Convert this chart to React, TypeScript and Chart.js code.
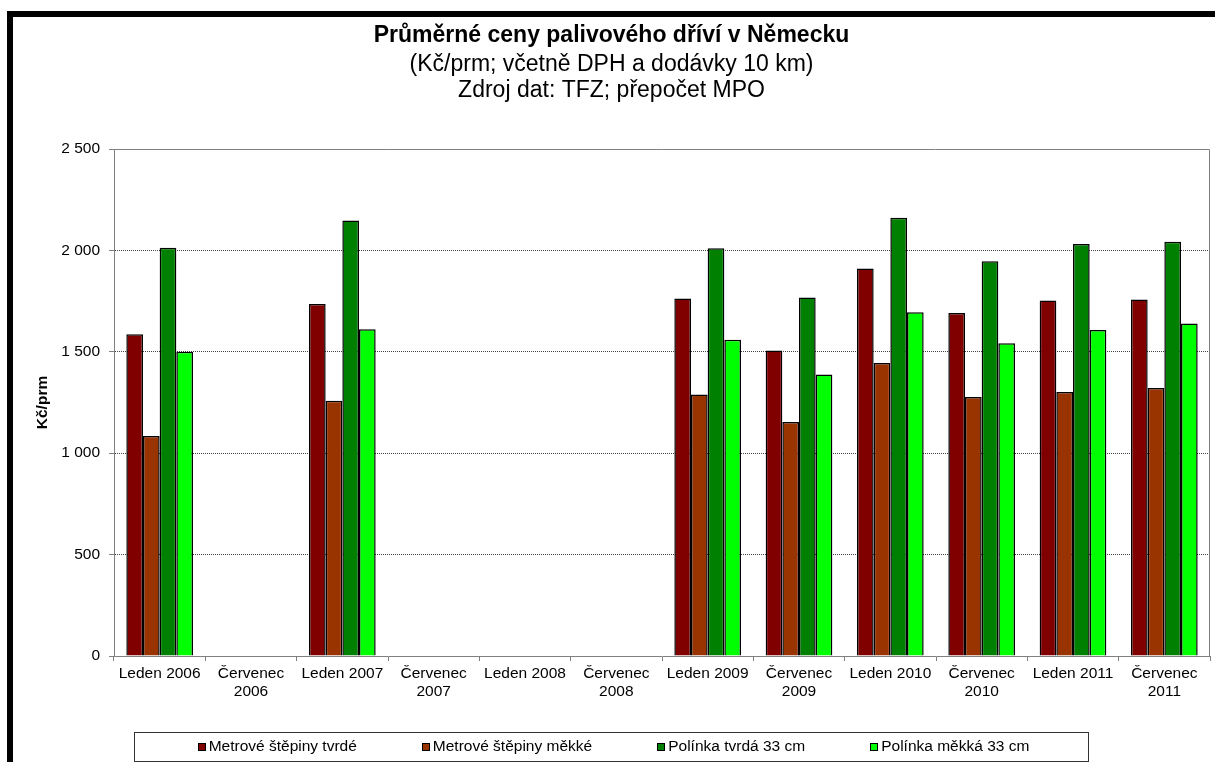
import React, { useEffect, useRef } from 'react';
import { Chart, registerables } from 'chart.js';

Chart.register(...registerables);

const FONT = "'Liberation Sans', Arial, Helvetica, sans-serif";

const categories: (string | string[])[] = [
  'Leden 2006', ['Červenec', '2006'],
  'Leden 2007', ['Červenec', '2007'],
  'Leden 2008', ['Červenec', '2008'],
  'Leden 2009', ['Červenec', '2009'],
  'Leden 2010', ['Červenec', '2010'],
  'Leden 2011', ['Červenec', '2011'],
];

const seriesNames = [
  'Metrové štěpiny tvrdé',
  'Metrové štěpiny měkké',
  'Polínka tvrdá 33 cm',
  'Polínka měkká 33 cm',
];

const metroveTvrde = [1586, null, 1736, null, null, null, 1763, 1506, 1911, 1691, 1753, 1758];
const metroveMekke = [1085, null, 1259, null, null, null, 1289, 1154, 1445, 1277, 1302, 1322];
const polinkaTvrda = [2013, null, 2148, null, null, null, 2010, 1768, 2161, 1946, 2031, 2043];
const polinkaMekka = [1500, null, 1611, null, null, null, 1559, 1388, 1695, 1542, 1608, 1640];

const seriesColors = ['#800000', '#993300', '#008000', '#00FF00'];

const yTickValues = [0, 500, 1000, 1500, 2000, 2500];

const titleText = 'Průměrné ceny palivového dříví v Německu';
const subtitleLines = ['(Kč/prm; včetně DPH a dodávky 10 km)', 'Zdroj dat: TFZ; přepočet MPO'];
const yAxisTitle = 'Kč/prm';

const formatThousands = (v: number) => {
  if (v < 1000) return String(v);
  const th = Math.floor(v / 1000);
  const rest = String(v % 1000).padStart(3, '0');
  return `${th} ${rest}`;
};

const plotBorder = {
  id: 'plotBorder',
  beforeDatasetsDraw(chart: any) {
    const { ctx, chartArea } = chart;
    ctx.save();
    ctx.strokeStyle = '#808080';
    ctx.lineWidth = 1;
    ctx.beginPath();
    ctx.moveTo(chartArea.left, Math.round(chartArea.top) + 0.5);
    ctx.lineTo(Math.round(chartArea.right) - 0.5, Math.round(chartArea.top) + 0.5);
    ctx.lineTo(Math.round(chartArea.right) - 0.5, chartArea.bottom);
    ctx.stroke();
    ctx.restore();
  },
};

const boxedLegend = {
  id: 'boxedLegend',
  afterDraw(chart: any) {
    const { ctx, chartArea } = chart;
    const datasets = chart.data.datasets;
    const fs = 15.5;
    ctx.save();
    ctx.font = `${fs}px ${FONT}`;
    const sq = 8;
    const textGap = 11;
    const itemGap = 65;
    const widths = datasets.map((d: any) => ctx.measureText(d.label).width);
    const total = widths.reduce((a: number, w: number) => a + textGap + w, 0) + itemGap * (datasets.length - 1);
    const startX = chart.width / 2 + 1 - total / 2;
    const top = Math.round(chartArea.bottom + 76);
    const h = 29;
    const cy = top + 15;
    ctx.strokeStyle = '#333';
    ctx.lineWidth = 1;
    ctx.strokeRect(Math.round(startX - 64) + 0.5, top + 0.5, Math.round(total + 64 + 58), h);
    let x = startX;
    datasets.forEach((d: any, i: number) => {
      const bx = Math.round(x);
      ctx.fillStyle = d.backgroundColor;
      ctx.fillRect(bx, cy - 4, sq, sq);
      ctx.strokeStyle = '#000';
      ctx.strokeRect(bx + 0.5, cy - 4 + 0.5, sq - 1, sq - 1);
      ctx.fillStyle = '#000';
      ctx.textBaseline = 'middle';
      ctx.textAlign = 'left';
      ctx.fillText(d.label, x + textGap, cy);
      x += textGap + widths[i] + itemGap;
    });
    ctx.restore();
  },
};

export default function App() {
  const canvasRef = useRef<HTMLCanvasElement | null>(null);

  useEffect(() => {
    if (!canvasRef.current) return;
    Chart.defaults.font.family = FONT;
    const seriesValues = [metroveTvrde, metroveMekke, polinkaTvrda, polinkaMekka];
    const chart = new Chart(canvasRef.current, {
      type: 'bar',
      data: {
        labels: categories,
        datasets: seriesNames.map((name, i) => ({
          label: name,
          data: seriesValues[i],
          backgroundColor: seriesColors[i],
          borderColor: '#000',
          borderWidth: 1.5,
          borderSkipped: 'start',
          categoryPercentage: 0.73,
          barPercentage: 1,
        })),
      },
      options: {
        responsive: false,
        animation: false,
        devicePixelRatio: 1,
        layout: { padding: { left: 0, right: 2, top: 0, bottom: 46 } },
        plugins: {
          legend: { display: false },
          tooltip: { enabled: false },
          title: {
            display: true,
            text: titleText,
            color: '#000',
            font: { family: FONT, size: 23, weight: 'bold', lineHeight: 1.2 },
            padding: { top: 6, bottom: 0 },
          },
          subtitle: {
            display: true,
            text: subtitleLines,
            color: '#000',
            font: { family: FONT, size: 23, weight: 'normal', lineHeight: 26 / 23 },
            padding: { top: 2, bottom: 45.4 },
          },
        },
        scales: {
          x: {
            offset: true,
            grid: {
              display: true,
              offset: true,
              drawOnChartArea: false,
              drawTicks: true,
              tickLength: 5,
              color: '#808080',
            },
            border: { display: true, color: '#808080', width: 1 },
            ticks: {
              color: '#000',
              font: { family: FONT, size: 15.5, lineHeight: 1.15 },
              padding: 4,
              maxRotation: 0,
              minRotation: 0,
              autoSkip: false,
            },
            afterFit: (scale: any) => {
              scale.height = 60;
            },
          },
          y: {
            min: 0,
            max: 2500,
            afterBuildTicks: (scale: any) => {
              scale.ticks = yTickValues.map((v) => ({ value: v }));
            },
            grid: {
              color: (ctx: any) =>
                ctx.tick && (ctx.tick.value === 0 || ctx.tick.value === 2500) ? 'rgba(0,0,0,0)' : '#444',
              tickColor: '#808080',
              drawTicks: true,
              tickLength: 5,
              lineWidth: 1,
            },
            border: { display: true, color: '#808080', width: 1, dash: [1, 1] },
            ticks: {
              color: '#000',
              font: { family: FONT, size: 15.5 },
              padding: 9,
              callback: (v: any) => formatThousands(Number(v)),
            },
            title: {
              display: true,
              text: yAxisTitle,
              color: '#000',
              font: { family: FONT, size: 15.5, weight: 'bold', lineHeight: 1.2 },
              padding: { top: 20, bottom: 0 },
            },
            afterFit: (scale: any) => {
              scale.width = 101;
            },
          },
        },
      },
      plugins: [plotBorder, boxedLegend],
    });
    return () => chart.destroy();
  }, []);

  return (
    <div
      style={{
        position: 'fixed',
        left: 0,
        top: 0,
        width: 1215,
        height: 762,
        overflow: 'hidden',
        background: '#fff',
      }}
    >
      <div
        style={{
          position: 'absolute',
          left: 7,
          top: 11,
          width: 1400,
          height: 1000,
          borderLeft: '6px solid #000',
          borderTop: '6px solid #000',
          boxSizing: 'border-box',
        }}
      />
      <canvas
        ref={canvasRef}
        width={1199}
        height={746}
        style={{ position: 'absolute', left: 13, top: 16, width: 1199, height: 746 }}
      />
    </div>
  );
}
